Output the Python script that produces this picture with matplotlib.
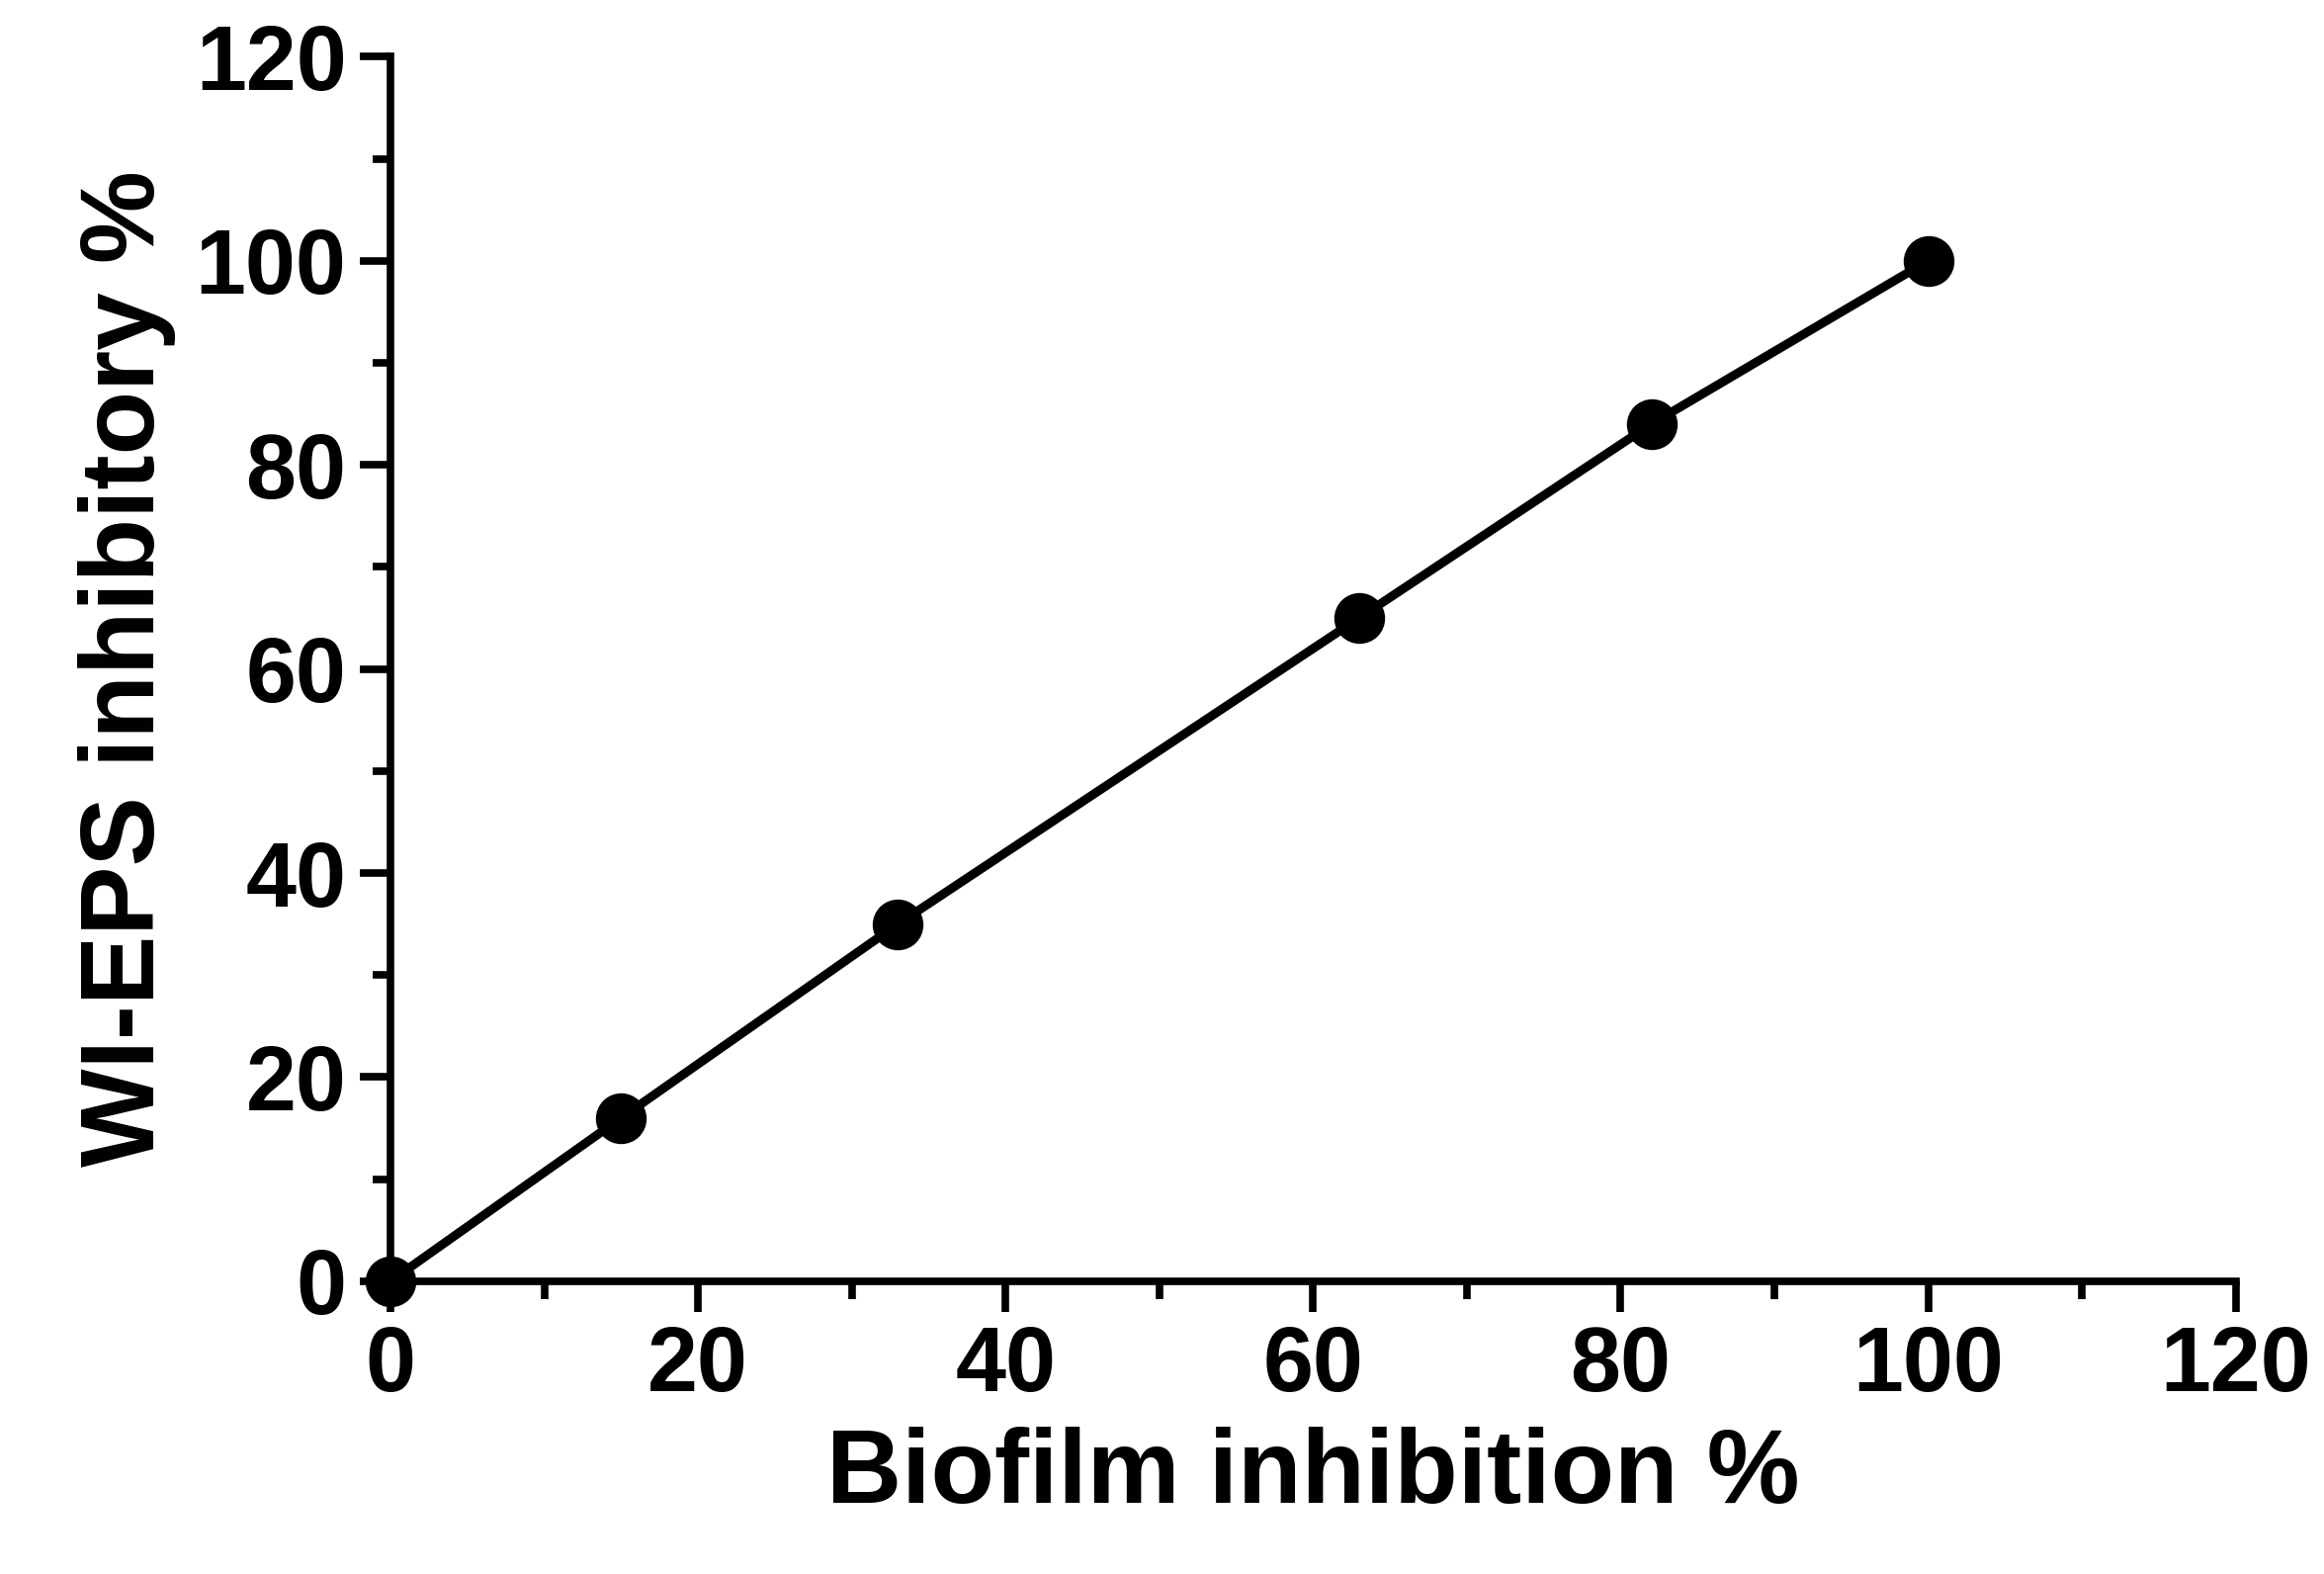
import matplotlib
matplotlib.use("Agg")
import matplotlib.pyplot as plt
from matplotlib.ticker import MultipleLocator

biofilm = [0, 15, 33, 63, 82, 100]
wieps = [0, 16, 35, 65, 84, 100]

plt.rcParams['font.family'] = ['Liberation Sans', 'DejaVu Sans']
plt.rcParams['font.weight'] = 'bold'
fig = plt.figure(figsize=(23.51, 15.92), dpi=100)
ax = fig.add_axes([0.168, 0.186, 0.794, 0.778])
ax.plot(biofilm, wieps, color='black', lw=6.5, marker='o', ms=36, clip_on=False, zorder=3)
ax.set_xlim(0, 120)
ax.set_ylim(0, 120)
for s in ['top', 'right']:
    ax.spines[s].set_visible(False)
for s in ['left', 'bottom']:
    ax.spines[s].set_linewidth(5.5)
ax.xaxis.set_major_locator(MultipleLocator(20))
ax.xaxis.set_minor_locator(MultipleLocator(10))
ax.yaxis.set_major_locator(MultipleLocator(20))
ax.yaxis.set_minor_locator(MultipleLocator(10))
ax.tick_params(which='major', length=22, width=5.5, labelsize=66, pad=10)
ax.tick_params(which='minor', length=13, width=5.5)
ax.set_xlabel('Biofilm inhibition %', fontsize=76, fontweight='bold', labelpad=12)
ax.set_ylabel('WI-EPS inhibitory %', fontsize=76, fontweight='bold', labelpad=14)
fig.savefig('out.png', dpi=100)
